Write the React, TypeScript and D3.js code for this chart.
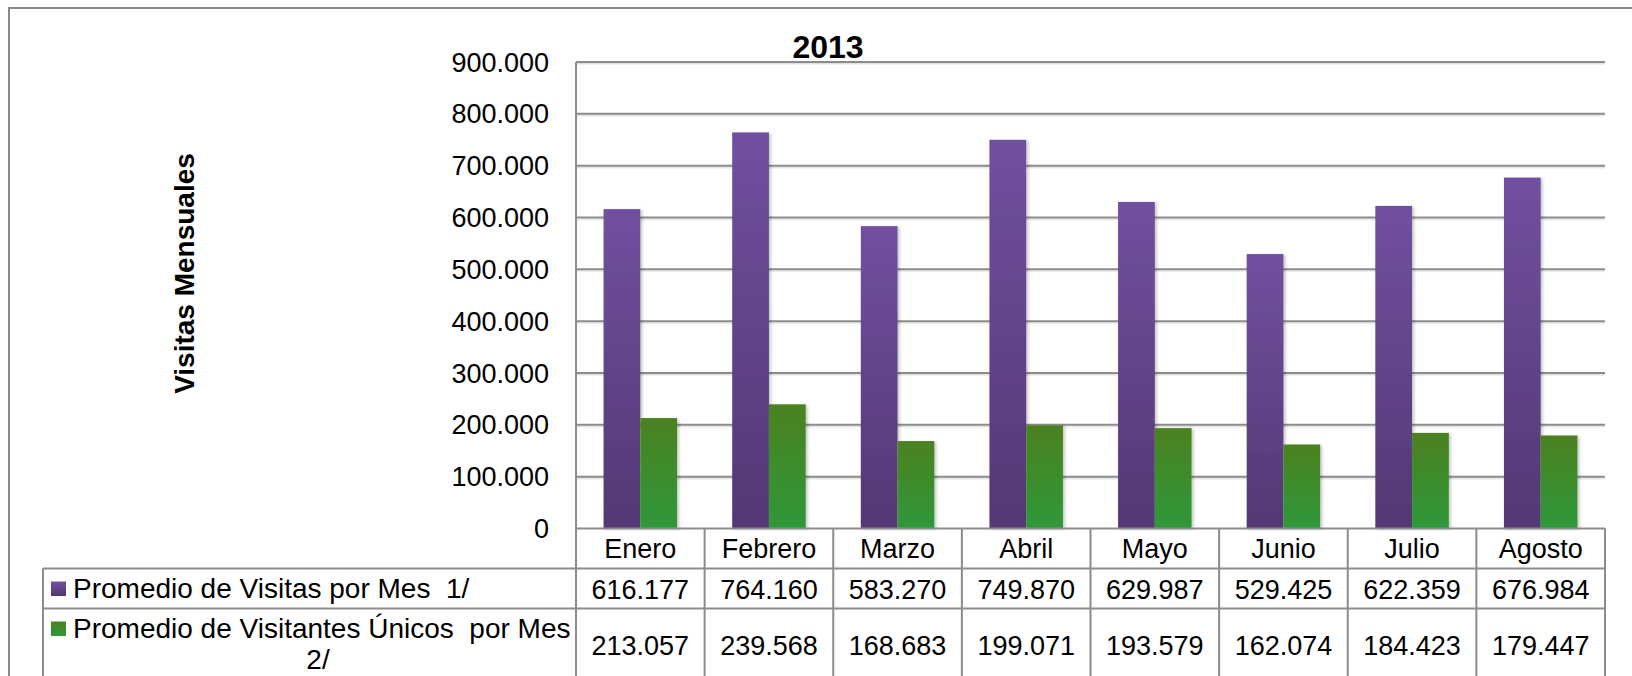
import React from "react";
import * as d3 from "d3";

const months = ["Enero", "Febrero", "Marzo", "Abril", "Mayo", "Junio", "Julio", "Agosto"];
const visitas = [616177, 764160, 583270, 749870, 629987, 529425, 622359, 676984];
const unicos = [213057, 239568, 168683, 199071, 193579, 162074, 184423, 179447];
const yTicks = [0, 100000, 200000, 300000, 400000, 500000, 600000, 700000, 800000, 900000];
const seriesNames = ["Promedio de Visitas por Mes  1/", "Promedio de Visitantes Únicos  por Mes", "2/"];
const title = "2013";
const yTitle = "Visitas Mensuales";

const W = 1632;
const H = 676;
const FONT = "'Liberation Sans', Arial, sans-serif";
const GRID = "#8c8c8c";

const fmt = (v: number) => {
  if (v === 0) return "0";
  const s = Math.round(v).toString();
  return s.replace(/\B(?=(\d{3})+(?!\d))/g, ".");
};

export default function App() {
  const plotLeft = 576;
  const plotRight = 1605;
  const y = d3.scaleLinear().domain([0, 900000]).range([528.5, 62]);
  const x = d3.scaleBand<string>().domain(months).range([plotLeft, plotRight]).paddingInner(0).paddingOuter(0);
  const bw = x.bandwidth() / 3.5;
  const y0 = y(0);
  const row1Bottom = 568.5;
  const row2Bottom = 608.5;
  const tableBottom = 700;
  const legendLeft = 43;

  return (
    <svg
      width={W}
      height={H}
      style={{ position: "absolute", left: 0, top: 0, background: "#fff" }}
      fontFamily={FONT}
    >
      <defs>
        <linearGradient id="gPurple" x1="0" y1="0" x2="0" y2="1">
          <stop offset="0" stopColor="#71509f" />
          <stop offset="1" stopColor="#523873" />
        </linearGradient>
        <linearGradient id="gGreen" x1="0" y1="0" x2="0" y2="1">
          <stop offset="0" stopColor="#4b811f" />
          <stop offset="1" stopColor="#2e983a" />
        </linearGradient>
        <filter id="shadow" x="-20%" y="-5%" width="150%" height="115%">
          <feDropShadow dx="2" dy="1" stdDeviation="1.5" floodColor="#000" floodOpacity="0.22" />
        </filter>
        <filter id="lshadow" x="0" y="-100%" width="100%" height="400%">
          <feDropShadow dx="0" dy="1.5" stdDeviation="0.6" floodColor="#000" floodOpacity="0.12" />
        </filter>
      </defs>
      <rect x={0} y={0} width={W} height={H} fill="#fff" />
      {/* outer frame */}
      <path d={`M9,${H + 5} V8 H${W + 5}`} fill="none" stroke="#8a8a8a" strokeWidth={2} />

      {/* title */}
      <text x={828} y={58} textAnchor="middle" fontSize={32} fontWeight="bold" fill="#000">
        {title}
      </text>

      {/* y title */}
      <text
        transform={`translate(193.5,273.5) rotate(-90)`}
        textAnchor="middle"
        fontSize={28}
        fontWeight="bold"
        fill="#000"
      >
        {yTitle}
      </text>

      {/* gridlines */}
      <g filter="url(#lshadow)">
        {yTicks.filter((t) => t > 0).map((t) => (
          <line key={t} x1={plotLeft} x2={plotRight} y1={y(t)} y2={y(t)} stroke={GRID} strokeWidth={2} />
        ))}
      </g>

      {/* tick labels */}
      {yTicks.map((t) => (
        <text key={t} x={549} y={y(t) + 9.5} textAnchor="end" fontSize={27} fill="#000">
          {fmt(t)}
        </text>
      ))}

      {/* bars */}
      <g filter="url(#shadow)">
        {months.map((m, i) => {
          const c = (x(m) as number) + x.bandwidth() / 2;
          return (
            <g key={m}>
              <rect x={c - bw} y={y(visitas[i])} width={bw} height={y0 - y(visitas[i])} fill="url(#gPurple)" />
              <rect x={c} y={y(unicos[i])} width={bw} height={y0 - y(unicos[i])} fill="url(#gGreen)" />
            </g>
          );
        })}
      </g>

      {/* table lines */}
      <g stroke={GRID} strokeWidth={2} fill="none">
        <line x1={plotLeft} x2={plotRight} y1={y0} y2={y0} />
        <line x1={legendLeft} x2={plotRight} y1={row1Bottom} y2={row1Bottom} />
        <line x1={legendLeft} x2={plotRight} y1={row2Bottom} y2={row2Bottom} />
        <line x1={legendLeft} x2={legendLeft} y1={row1Bottom} y2={tableBottom} />
        <line x1={plotLeft} x2={plotLeft} y1={y(900000)} y2={tableBottom} />
        {months.map((m) => {
          const xe = (x(m) as number) + x.bandwidth();
          return <line key={m} x1={xe} x2={xe} y1={y0} y2={tableBottom} />;
        })}
      </g>

      {/* table texts */}
      {months.map((m, i) => {
        const c = (x(m) as number) + x.bandwidth() / 2;
        return (
          <g key={m} fontSize={27} fill="#000" textAnchor="middle">
            <text x={c} y={558}>{m}</text>
            <text x={c} y={599}>{fmt(visitas[i])}</text>
            <text x={c} y={655}>{fmt(unicos[i])}</text>
          </g>
        );
      })}

      {/* legend */}
      <rect x={51} y={581.5} width={15} height={14.5} fill="url(#gPurple)" />
      <text x={73} y={597.5} fontSize={28} fill="#000" xmlSpace="preserve" style={{ whiteSpace: "pre" }}>
        {seriesNames[0]}
      </text>
      <rect x={51} y={621.5} width={15} height={14.5} fill="url(#gGreen)" />
      <text x={73} y={637.5} fontSize={28} fill="#000" xmlSpace="preserve" style={{ whiteSpace: "pre" }}>
        {seriesNames[1]}
      </text>
      <text x={318} y={668.5} fontSize={28} fill="#000" textAnchor="middle">
        {seriesNames[2]}
      </text>
    </svg>
  );
}
